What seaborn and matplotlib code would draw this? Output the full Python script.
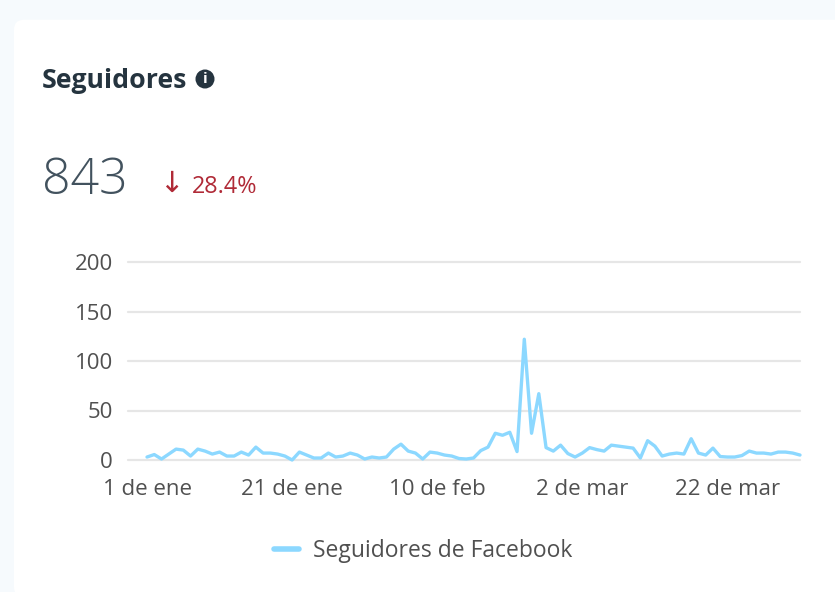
import matplotlib
matplotlib.use("Agg")
import matplotlib.pyplot as plt
from matplotlib.patches import FancyBboxPatch, Circle
import pandas as pd
import seaborn as sns

days = list(range(91))
followers = [3, 5.5, 1, 6, 11, 10, 4, 11, 9, 6, 8, 4, 4, 8, 5, 13, 7, 7, 6, 4, 0, 8, 5, 2, 2, 7, 3, 4, 7, 5, 1, 3, 2, 3, 11, 16, 9, 7, 1, 8, 7, 5, 4, 1.5, 1,
             2, 9.5, 13, 27, 25, 28, 8.5, 122, 27, 67, 12.5, 9, 15, 6.5, 3, 7, 12.5, 10.5, 9, 15, 14, 13, 12, 2, 19.5, 14, 4, 6, 7, 6, 21.5, 7, 5, 12, 3.5, 3, 3, 4.5, 9, 7, 7, 6, 8, 8, 7, 5]
x_ticks = [0, 20, 40, 60, 80]
x_labels = ["1 de ene", "21 de ene", "10 de feb", "2 de mar", "22 de mar"]
y_ticks = [0, 50, 100, 150, 200]
series_name = "Seguidores de Facebook"
title = "Seguidores"
total = "843"
change = "28.4%"

W, H = 835, 592
sns.set_theme(style="white")
plt.rcParams["font.family"] = ["Open Sans", "DejaVu Sans"]
fig = plt.figure(figsize=(W / 100, H / 100), dpi=100, facecolor="#f6fafd")

card = FancyBboxPatch((14 / W + 0.006, 0), 1.2, (592 - 20) / H - 0.008, transform=fig.transFigure,
                      boxstyle="round,pad=0.006,rounding_size=0.012", fc="white", ec="none",
                      mutation_aspect=W / H, zorder=-5)
fig.add_artist(card)

ax = fig.add_axes([128 / W, (H - 460) / H, (800 - 128) / W, (460 - 262) / H], facecolor="none")
df = pd.DataFrame({"day": days, "value": followers})
sns.lineplot(data=df, x="day", y="value", ax=ax, color="#8cd8ff", lw=2.4, label=series_name, clip_on=False)
ax.set_xlim(-19 / 7.25, 90)
ax.set_ylim(0, 200)
ax.set_xticks(x_ticks, x_labels)
ax.set_yticks(y_ticks)
ax.set_xlabel("")
ax.set_ylabel("")
ax.grid(axis="y", color="#e6e6e6", lw=1.6, clip_on=False)
ax.set_axisbelow(True)
sns.despine(ax=ax, left=True, bottom=True, top=True, right=True)
ax.tick_params(axis="both", length=0, labelsize=16, labelcolor="#505050")
ax.tick_params(axis="x", pad=13.5)
ax.tick_params(axis="y", pad=11)
leg = ax.legend(loc="center", bbox_to_anchor=((423 - 128) / (800 - 128), (460 - 551) / (460 - 262)), frameon=False,
                fontsize=16.5, handlelength=1.1, handletextpad=0.6, labelcolor="#505050")
leg.get_lines()[0].set_linewidth(4)
leg.get_lines()[0].set_solid_capstyle("round")

def fx(p): return p / W
def fy(p): return (H - p) / H

fig.text(fx(42), fy(81), title, fontsize=19.2, fontweight="bold", color="#25343f", va="center", ha="left")
icon_ax = fig.add_axes([0, 0, 1, 1], facecolor="none")
icon_ax.set_xlim(0, W); icon_ax.set_ylim(H, 0); icon_ax.axis("off")
icon_ax.add_patch(Circle((205, 79), 9.5, fc="#25343f", ec="none"))
icon_ax.text(205, 79, "i", color="white", fontsize=11, fontweight="bold", ha="center", va="center")
fig.text(fx(42), fy(181), total, fontsize=36, color="#42525e", va="center", ha="left", fontweight="light")
fig.text(fx(171), fy(184), "↓", fontsize=21, color="#b02a37", va="center", ha="center", family=["DejaVu Sans"])
fig.text(fx(192), fy(187), change, fontsize=16.8, color="#b02a37", va="center", ha="left")
fig.savefig("out.png", dpi=100, facecolor=fig.get_facecolor())
